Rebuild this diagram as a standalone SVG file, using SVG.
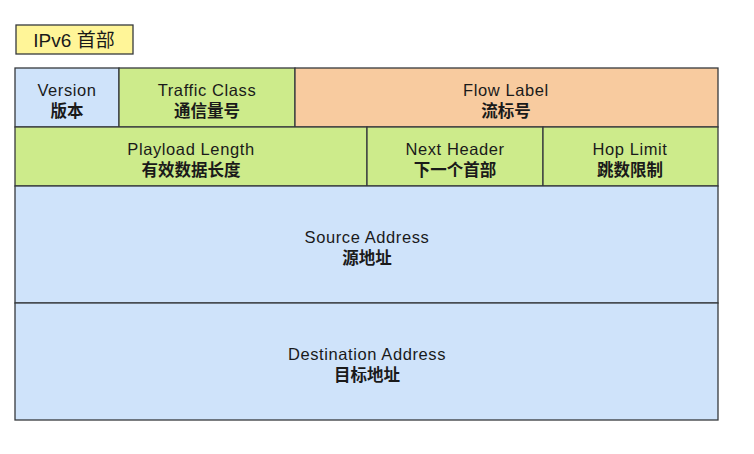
<svg xmlns="http://www.w3.org/2000/svg" width="754" height="454" viewBox="0 0 754 454">
<style>
.c{stroke:#36393d;stroke-width:1.3}
.b{fill:#cfe3fa}
.g{fill:#cdeb8b}
.o{fill:#f8cb9f}
text{font-family:"Liberation Sans","Noto Sans CJK SC",sans-serif;font-size:16.5px;letter-spacing:0.6px;fill:#1a1a1a;text-anchor:middle}
.z{font-family:"Noto Sans CJK SC",sans-serif;font-size:16.5px;letter-spacing:0;font-weight:bold}
</style>
<rect width="754" height="454" fill="#fff"/>
<g id="title">
<rect x="16" y="25" width="117" height="29" fill="#fff598" stroke="#36393d" stroke-width="1.3"/>
<text x="74" y="47" style="font-size:19px;letter-spacing:0">IPv6 首部</text>
</g>
<g id="version"><rect class="c b" x="15" y="68" width="104" height="59"/><text x="67" y="96">Version</text><text class="z" x="67" y="117">版本</text></g>
<g id="traffic-class"><rect class="c g" x="119" y="68" width="176" height="59"/><text x="207" y="96">Traffic Class</text><text class="z" x="207" y="117">通信量号</text></g>
<g id="flow-label"><rect class="c o" x="295" y="68" width="423" height="59"/><text x="506" y="96">Flow Label</text><text class="z" x="506" y="117">流标号</text></g>
<g id="payload-length"><rect class="c g" x="15" y="127" width="352" height="59"/><text x="191" y="155">Playload Length</text><text class="z" x="191" y="176">有效数据长度</text></g>
<g id="next-header"><rect class="c g" x="367" y="127" width="176" height="59"/><text x="455" y="155">Next Header</text><text class="z" x="455" y="176">下一个首部</text></g>
<g id="hop-limit"><rect class="c g" x="543" y="127" width="175" height="59"/><text x="630" y="155">Hop Limit</text><text class="z" x="630" y="176">跳数限制</text></g>
<g id="source-address"><rect class="c b" x="15" y="186" width="703" height="117"/><text x="367" y="243">Source Address</text><text class="z" x="367" y="264">源地址</text></g>
<g id="destination-address"><rect class="c b" x="15" y="303" width="703" height="117"/><text x="367" y="360">Destination Address</text><text class="z" x="367" y="381">目标地址</text></g>
<g id="connectors"></g>
</svg>
